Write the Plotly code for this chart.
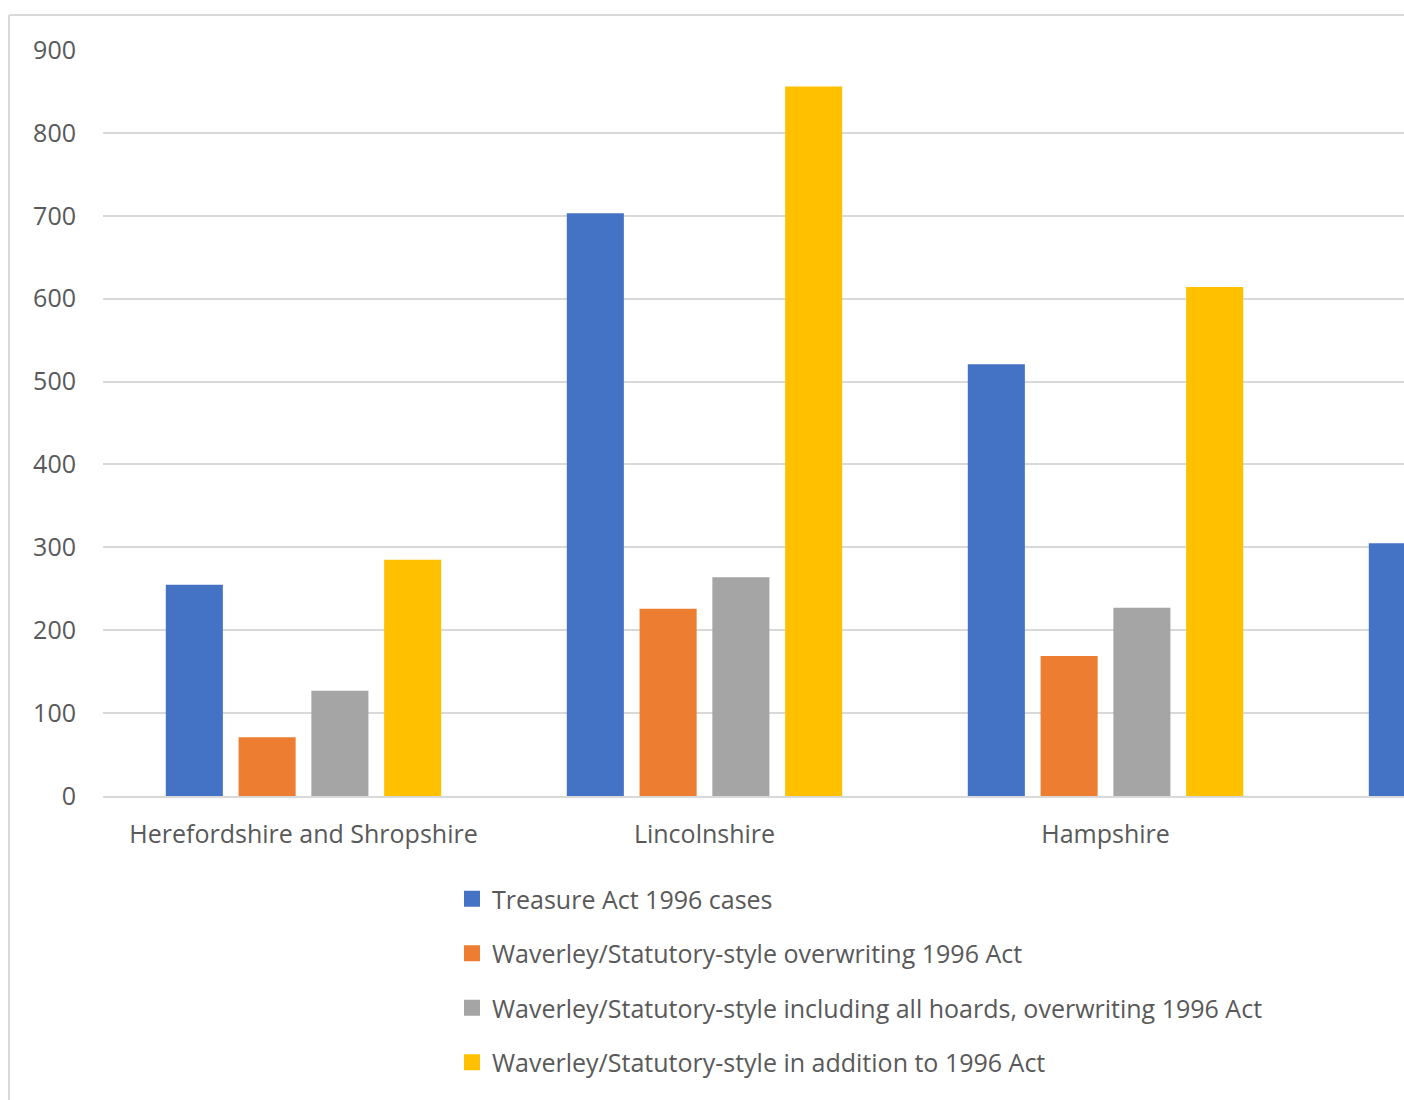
import plotly.graph_objects as go

categories = ["Herefordshire and Shropshire", "Lincolnshire", "Hampshire", " "]
series_names = [
    "Treasure Act 1996 cases",
    "Waverley/Statutory-style overwriting 1996 Act",
    "Waverley/Statutory-style including all hoards, overwriting 1996 Act",
    "Waverley/Statutory-style in addition to 1996 Act",
]
treasure_act = [255, 703, 521, 305]
overwriting = [71, 226, 169, None]
all_hoards = [127, 264, 227, None]
in_addition = [285, 856, 614, None]
colors = ["#4472C4", "#ED7D31", "#A5A5A5", "#FFC000"]

values = [treasure_act, overwriting, all_hoards, in_addition]

W, H = 1404, 1100
L, R, T, B = 103, 0, 50, 304
pw, ph = W - L - R, H - T - B

fig = go.Figure()
for i, (name, vals) in enumerate(zip(series_names, values)):
    fig.add_trace(go.Bar(
        x=categories, y=vals, name=name,
        marker=dict(color=colors[i], line=dict(width=0)),
        showlegend=False,
    ))
# legend entries with square swatches
for i, name in enumerate(series_names):
    fig.add_trace(go.Scatter(
        x=[None], y=[None], mode="markers", name=name,
        marker=dict(symbol="square", size=16, color=colors[i]),
        legendgroup=f"g{i}", showlegend=True,
    ))

font = dict(family="Open Sans, Noto Sans, sans-serif", size=25, color="#595959")

def px_x(x):
    return (x - L) / pw

def px_y(y):
    return (H - B - y) / ph

fig.update_layout(
    width=W, height=H,
    margin=dict(l=L, r=R, t=T, b=B),
    paper_bgcolor="white", plot_bgcolor="white",
    font=font,
    barmode="group", bargap=0.274, bargroupgap=0.216,
    showlegend=True,
    legend=dict(
        x=px_x(452), y=px_y(876), xanchor="left", yanchor="top",
        orientation="v", font=font, tracegroupgap=19,
        bgcolor="rgba(0,0,0,0)", itemsizing="trace",
    ),
    xaxis=dict(
        type="category", range=[-0.5, -0.5 + pw / 401.0],
        showgrid=False, showline=True, linecolor="#d9d9d9", linewidth=2,
        ticks="", tickfont=font, ticklabelstandoff=15, fixedrange=True,
    ),
    yaxis=dict(
        range=[0, 900], dtick=100, showgrid=True, gridcolor="#d9d9d9", gridwidth=2,
        zeroline=False, showline=False, ticks="", tickfont=font,
        ticklabelstandoff=26, fixedrange=True,
    ),
    shapes=[
        dict(type="line", xref="paper", yref="paper",
             x0=px_x(9), x1=px_x(9), y0=px_y(15), y1=px_y(1110),
             line=dict(color="#d9d9d9", width=2)),
        dict(type="line", xref="paper", yref="paper",
             x0=px_x(9), x1=px_x(1410), y0=px_y(15), y1=px_y(15),
             line=dict(color="#d9d9d9", width=2)),
    ],
)

fig.write_html("out.html")
